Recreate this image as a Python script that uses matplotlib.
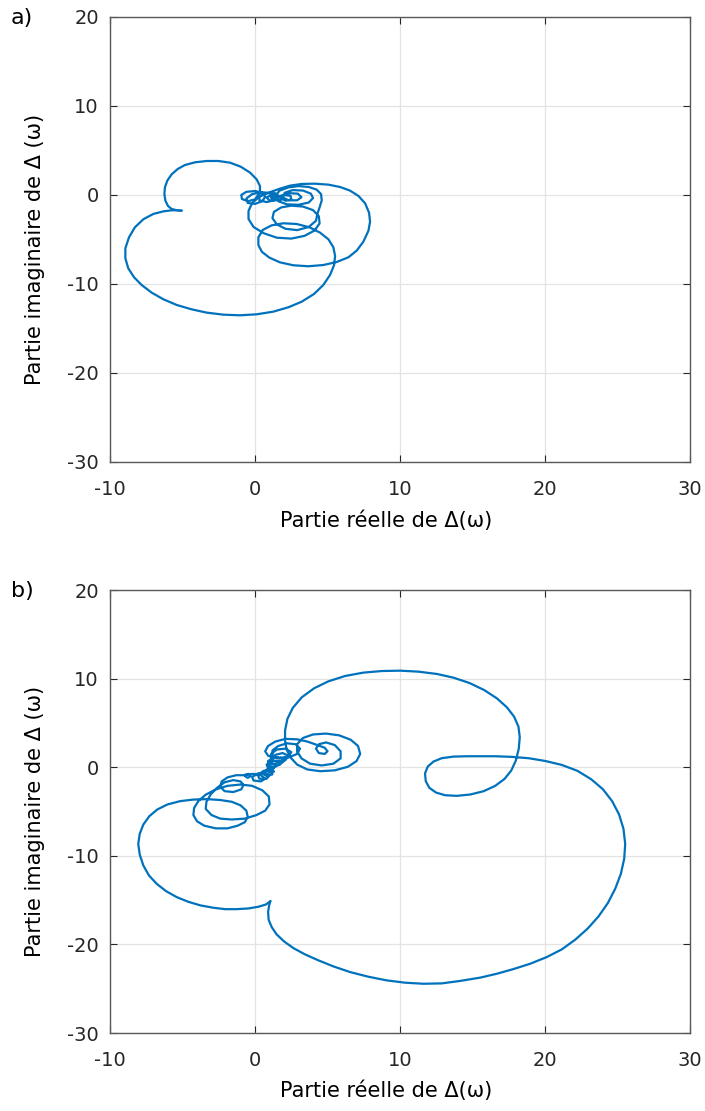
import numpy as np
import matplotlib
matplotlib.use("Agg")
import matplotlib.pyplot as plt

plt.rcParams['font.family'] = ['DejaVu Sans']
plt.rcParams['axes.unicode_minus'] = False

# ---- data, in data units ----
# chart a): branch from the cusp through the large lower loop
a_branch1_x = [-5.06, -5.40, -5.75, -6.32, -7.01, -7.70, -8.28, -8.69, -8.94, -8.94, -8.74, -8.34, -7.82, -7.13, -6.32, -5.40, -4.37, -3.33, -2.18, -1.03, 0.11, 1.26, 2.30, 3.22, 4.07, 4.71, 5.17, 5.45, 5.52, 5.40, 5.06, 4.48, 3.75, 2.87, 1.95, 1.15, 0.53, 0.23, 0.23, 0.48, 0.99, 1.72, 2.64, 3.68, 4.71, 5.63, 6.44,
               7.01, 7.47, 7.82, 7.93, 7.86, 7.59, 7.13, 6.55, 5.86, 5.06, 4.14, 3.22, 2.41, 1.72,
               1.0, 0.3, -0.2, -0.45, -0.45, -0.1, 0.6, 1.5, 2.5, 3.4, 4.1, 4.45, 4.4, 4.0, 3.3, 2.5, 1.8, 1.3, 1.2, 1.5, 2.1, 2.9, 3.7, 4.2, 4.3,
               4.45, 4.6, 4.55, 4.25, 3.7, 3.0, 2.3, 1.7, 1.4, 1.6, 2.2, 3.0, 3.7, 4.0, 3.85, 3.3, 2.6, 2.05, 1.9, 2.3, 2.9, 3.2, 2.95, 2.4, 1.95, 1.8, 2.1, 2.5, 2.45, 2.0, 1.6, 1.5, 1.75, 1.9, 1.65, 1.35, 1.25]
a_branch1_y = [-1.76, -1.72, -1.72, -1.84, -2.13, -2.73, -3.63, -4.76, -5.99, -7.12, -8.24, -9.25, -10.11, -10.97, -11.72, -12.36, -12.85, -13.22, -13.45, -13.52, -13.41, -13.11, -12.62, -11.99, -11.12, -10.11, -8.99, -7.87, -6.85, -5.88, -4.98, -4.23, -3.63, -3.26, -3.18, -3.41, -3.93, -4.76, -5.62, -6.40, -7.04, -7.57, -7.90, -8.01, -7.87, -7.53, -7.00,
               -6.25, -5.24, -4.01, -3.00, -1.99, -0.94, -0.11, 0.49, 0.90, 1.16, 1.27, 1.24, 1.05, 0.71,
               0.3, -0.2, -0.9, -1.8, -2.7, -3.6, -4.3, -4.8, -4.9, -4.6, -4.0, -3.2, -2.4, -1.7, -1.3, -1.2, -1.4, -1.9, -2.6, -3.3, -3.8, -3.95, -3.6, -2.9, -2.1,
               -1.4, -0.6, 0.1, 0.6, 0.9, 1.0, 0.85, 0.5, -0.1, -0.7, -1.05, -1.1, -0.85, -0.35, 0.15, 0.5, 0.55, 0.25, -0.25, -0.6, -0.6, -0.25, 0.15, 0.2, -0.05, -0.4, -0.65, -0.5, -0.1, 0.0, -0.15, -0.45, -0.6, -0.35, -0.15, -0.2, -0.2]
# chart a): branch from the cusp through the upper loop
a_branch2_x = [-5.06, -5.40, -5.75, -6.00, -6.18, -6.25, -6.21, -6.05, -5.75, -5.33, -4.83, -4.14, -3.33, -2.53, -1.72, -0.99, -0.34, 0.11, 0.34, 0.34, 0.18,
               0.0, -0.5, -0.9, -0.95, -0.6, 0.0, 0.5, 0.7, 0.5, 0.0, -0.5, -0.6, -0.2, 0.4, 1.0, 1.4, 1.3, 0.8, 0.3, 0.3, 0.8, 1.4, 1.7, 1.5, 1.0, 0.8, 1.1, 1.5, 1.6, 1.3, 1.1, 1.2]
a_branch2_y = [-1.76, -1.72, -1.57, -1.24, -0.64, 0.11, 0.86, 1.61, 2.32, 2.92, 3.37, 3.67, 3.82, 3.82, 3.63, 3.18, 2.51, 1.76, 1.01, 0.37, -0.07,
               -0.5, -0.7, -0.45, 0.0, 0.35, 0.45, 0.25, -0.2, -0.7, -1.0, -0.9, -0.4, 0.1, 0.3, 0.25, -0.1, -0.6, -0.8, -0.6, -0.1, 0.2, 0.2, -0.2, -0.6, -0.6, -0.3, 0.0, 0.0, -0.3, -0.45, -0.3, -0.15]

# chart b): branch from the cusp through the large right loops
b_branch1_x = [1.06, 0.97, 0.90, 0.94, 1.15, 1.49, 2.00, 2.64, 3.45, 4.37, 5.40, 6.55, 7.82, 9.08, 10.34, 11.61, 12.87, 14.14,
               15.52, 16.67, 17.82, 18.97, 20.11, 21.15, 22.07, 22.92, 23.68, 24.32, 24.83, 25.22, 25.45, 25.52, 25.40, 25.10, 24.62, 23.98, 23.17, 22.23, 21.15, 20.0, 18.85, 17.70, 16.55, 15.52,
               14.60, 13.68, 12.87, 12.30, 11.91, 11.72, 11.77, 12.02, 12.48, 13.10, 13.91, 14.83, 15.75, 16.55, 17.20, 17.66, 17.98, 18.18, 18.25, 18.16, 17.86, 17.36, 16.67, 15.79, 14.78, 13.68, 12.53, 11.26, 10.0, 8.74, 7.47, 6.21, 5.06, 4.07, 3.22, 2.60, 2.23, 2.07, 2.07, 2.18,
               2.45, 2.9, 3.6, 4.5, 5.5, 6.4, 7.0, 7.25, 7.1, 6.6, 5.8, 4.9, 4.0, 3.3, 2.9, 2.9,
               3.2, 3.8, 4.6, 5.4, 5.9, 5.9, 5.5, 4.9, 4.4, 4.2,
               4.4, 4.8, 5.0, 4.8, 4.3,
               3.6, 2.9, 2.1, 1.4, 0.9, 0.7, 0.9, 1.5, 2.3, 2.9, 3.1, 2.8, 2.2,
               1.6, 1.2, 1.2, 1.7, 2.3, 2.5, 2.1, 1.5, 1.1, 1.1, 1.5, 2.1, 2.3, 1.9, 1.4, 1.1, 1.2, 1.7, 2.0, 1.8, 1.3, 0.9, 0.9, 1.3, 1.7, 1.6, 1.1, 0.8, 0.9, 1.3, 1.4, 1.0, 0.9, 1.1]
b_branch1_y = [-15.11, -15.60, -16.35, -17.22, -18.05, -18.87, -19.66, -20.41, -21.13, -21.80, -22.48, -23.12, -23.65, -24.06, -24.32, -24.44, -24.40, -24.12,
               -23.75, -23.31, -22.78, -22.18, -21.43, -20.56, -19.47, -18.23, -16.84, -15.34, -13.72, -12.03, -10.34, -8.65, -6.95, -5.34, -3.83, -2.48, -1.35, -0.41, 0.26, 0.71, 1.02, 1.17, 1.24, 1.24,
               1.24, 1.20, 1.02, 0.64, 0.08, -0.68, -1.58, -2.33, -2.86, -3.16, -3.23, -3.08, -2.71, -2.11, -1.32, -0.38, 0.75, 2.07, 3.38, 4.59, 5.71, 6.77, 7.78, 8.72, 9.51, 10.11, 10.53, 10.79, 10.90, 10.86, 10.68, 10.30, 9.70, 8.91, 7.89, 6.69, 5.45, 4.14, 3.01, 1.99,
               1.1, 0.3, -0.25, -0.45, -0.35, 0.05, 0.7, 1.5, 2.4, 3.1, 3.6, 3.8, 3.7, 3.3, 2.6, 1.8,
               1.0, 0.4, 0.2, 0.4, 1.0, 1.8, 2.5, 2.8, 2.6, 2.1,
               1.6, 1.5, 1.8, 2.2, 2.5,
               2.9, 3.15, 3.2, 2.9, 2.4, 1.8, 1.3, 1.0, 1.1, 1.5, 2.1, 2.6, 2.7,
               2.4, 1.9, 1.3, 1.0, 1.2, 1.7, 2.1, 2.0, 1.5, 0.9, 0.6, 0.8, 1.3, 1.6, 1.4, 0.9, 0.4, 0.3, 0.7, 1.1, 1.1, 0.7, 0.2, 0.0, 0.3, 0.7, 0.7, 0.3, -0.1, -0.1, 0.3, 0.4, 0.1, -0.05]
# chart b): branch from the cusp through the large left loops
b_branch2_x = [1.06, 0.76, 0.23, -0.46, -1.26, -2.07, -2.87, -3.75, -4.60, -5.40, -6.14, -6.78, -7.31, -7.70, -7.95, -8.05, -7.95, -7.70, -7.29, -6.74, -6.05, -5.17, -4.25,
               -3.3, -2.4, -1.6, -1.0, -0.6, -0.5, -0.7, -1.2, -1.9, -2.7, -3.5, -4.0, -4.25, -4.2, -3.9, -3.4, -2.7, -1.9, -1.0, -0.2, 0.5, 0.95, 1.0, 0.7, 0.1, -0.7, -1.6, -2.4, -3.0, -3.4, -3.35,
               -3.05, -2.6, -2.1, -1.5, -1.0, -0.8, -0.95, -1.5, -2.1, -2.4, -2.3, -1.9, -1.3, -0.8,
               -0.45, -0.3, -0.5, -0.7, -0.5,
               -0.1, 0.4, 0.7, 0.4, -0.1, -0.2, 0.2, 0.7, 1.0, 0.8, 0.3, 0.2, 0.6, 1.1, 1.2, 0.8, 0.5, 0.8, 1.2, 1.3, 1.0, 0.8, 1.0, 1.1]
b_branch2_y = [-15.11, -15.49, -15.75, -15.94, -16.02, -16.02, -15.86, -15.60, -15.19, -14.66, -13.98, -13.16, -12.22, -11.09, -9.85, -8.65, -7.52, -6.47, -5.53, -4.77, -4.21, -3.83, -3.65,
               -3.6, -3.7, -3.9, -4.3, -4.9, -5.6, -6.2, -6.6, -6.9, -6.9, -6.6, -6.1, -5.4, -4.6, -3.8, -3.1, -2.5, -2.1, -1.95, -2.1, -2.6, -3.3, -4.2, -4.9, -5.4, -5.8, -5.9, -5.8, -5.4, -4.7, -3.9,
               -3.05, -2.3, -1.7, -1.45, -1.6, -2.0, -2.5, -2.8, -2.7, -2.2, -1.6, -1.15, -0.9, -0.9,
               -0.75, -1.0, -1.2, -1.0, -0.8,
               -0.75, -0.9, -1.3, -1.6, -1.5, -1.1, -0.7, -0.6, -0.9, -1.3, -1.3, -0.9, -0.4, -0.4, -0.8, -1.0, -0.7, -0.3, -0.2, -0.5, -0.6, -0.3, -0.05, -0.05]

x_ticks = [-10, 0, 10, 20, 30]
y_ticks = [-30, -20, -10, 0, 10, 20]
x_label = "Partie réelle de Δ(ω)"
y_label = "Partie imaginaire de Δ (ω)"
panel_labels = ["a)", "b)"]

LINE = '#0072BD'
FS = 14

fig = plt.figure(figsize=(7.05, 11.11), dpi=100)
ax1 = fig.add_axes([0.156, 0.5842, 0.823, 0.4005])
ax2 = fig.add_axes([0.156, 0.0702, 0.823, 0.3987])

datasets = [
    ((a_branch1_x, a_branch1_y), (a_branch2_x, a_branch2_y)),
    ((b_branch1_x, b_branch1_y), (b_branch2_x, b_branch2_y)),
]

for ax, branches, lab in zip([ax1, ax2], datasets, panel_labels):
    for bx, by in branches:
        ax.plot(bx, by, color=LINE, lw=1.6, solid_joinstyle='round',
                solid_capstyle='round', zorder=3)
    ax.set_xlim(-10, 30)
    ax.set_ylim(-30, 20)
    ax.set_xticks(x_ticks)
    ax.set_yticks(y_ticks)
    ax.grid(True, color='#e3e3e3', lw=0.9)
    ax.set_axisbelow(True)
    ax.tick_params(direction='in', top=True, right=True, labelsize=FS,
                   colors='#262626', length=5, width=0.8, pad=8)
    ax.tick_params(axis='x', pad=13)
    for s in ax.spines.values():
        s.set_color('#595959')
        s.set_linewidth(1.0)
    ax.set_xlabel(x_label, fontsize=15, color='#000000')
    ax.set_ylabel(y_label, fontsize=15, color='#000000')
    ax.xaxis.set_label_coords(0.476, -0.108)
    ax.yaxis.set_label_coords(-0.112, 0.478)
    bb = ax.get_position()
    fig.text(0.015, bb.y1 - 0.001, lab, fontsize=16, ha='left', va='center')

fig.savefig('out.png', dpi=100)
